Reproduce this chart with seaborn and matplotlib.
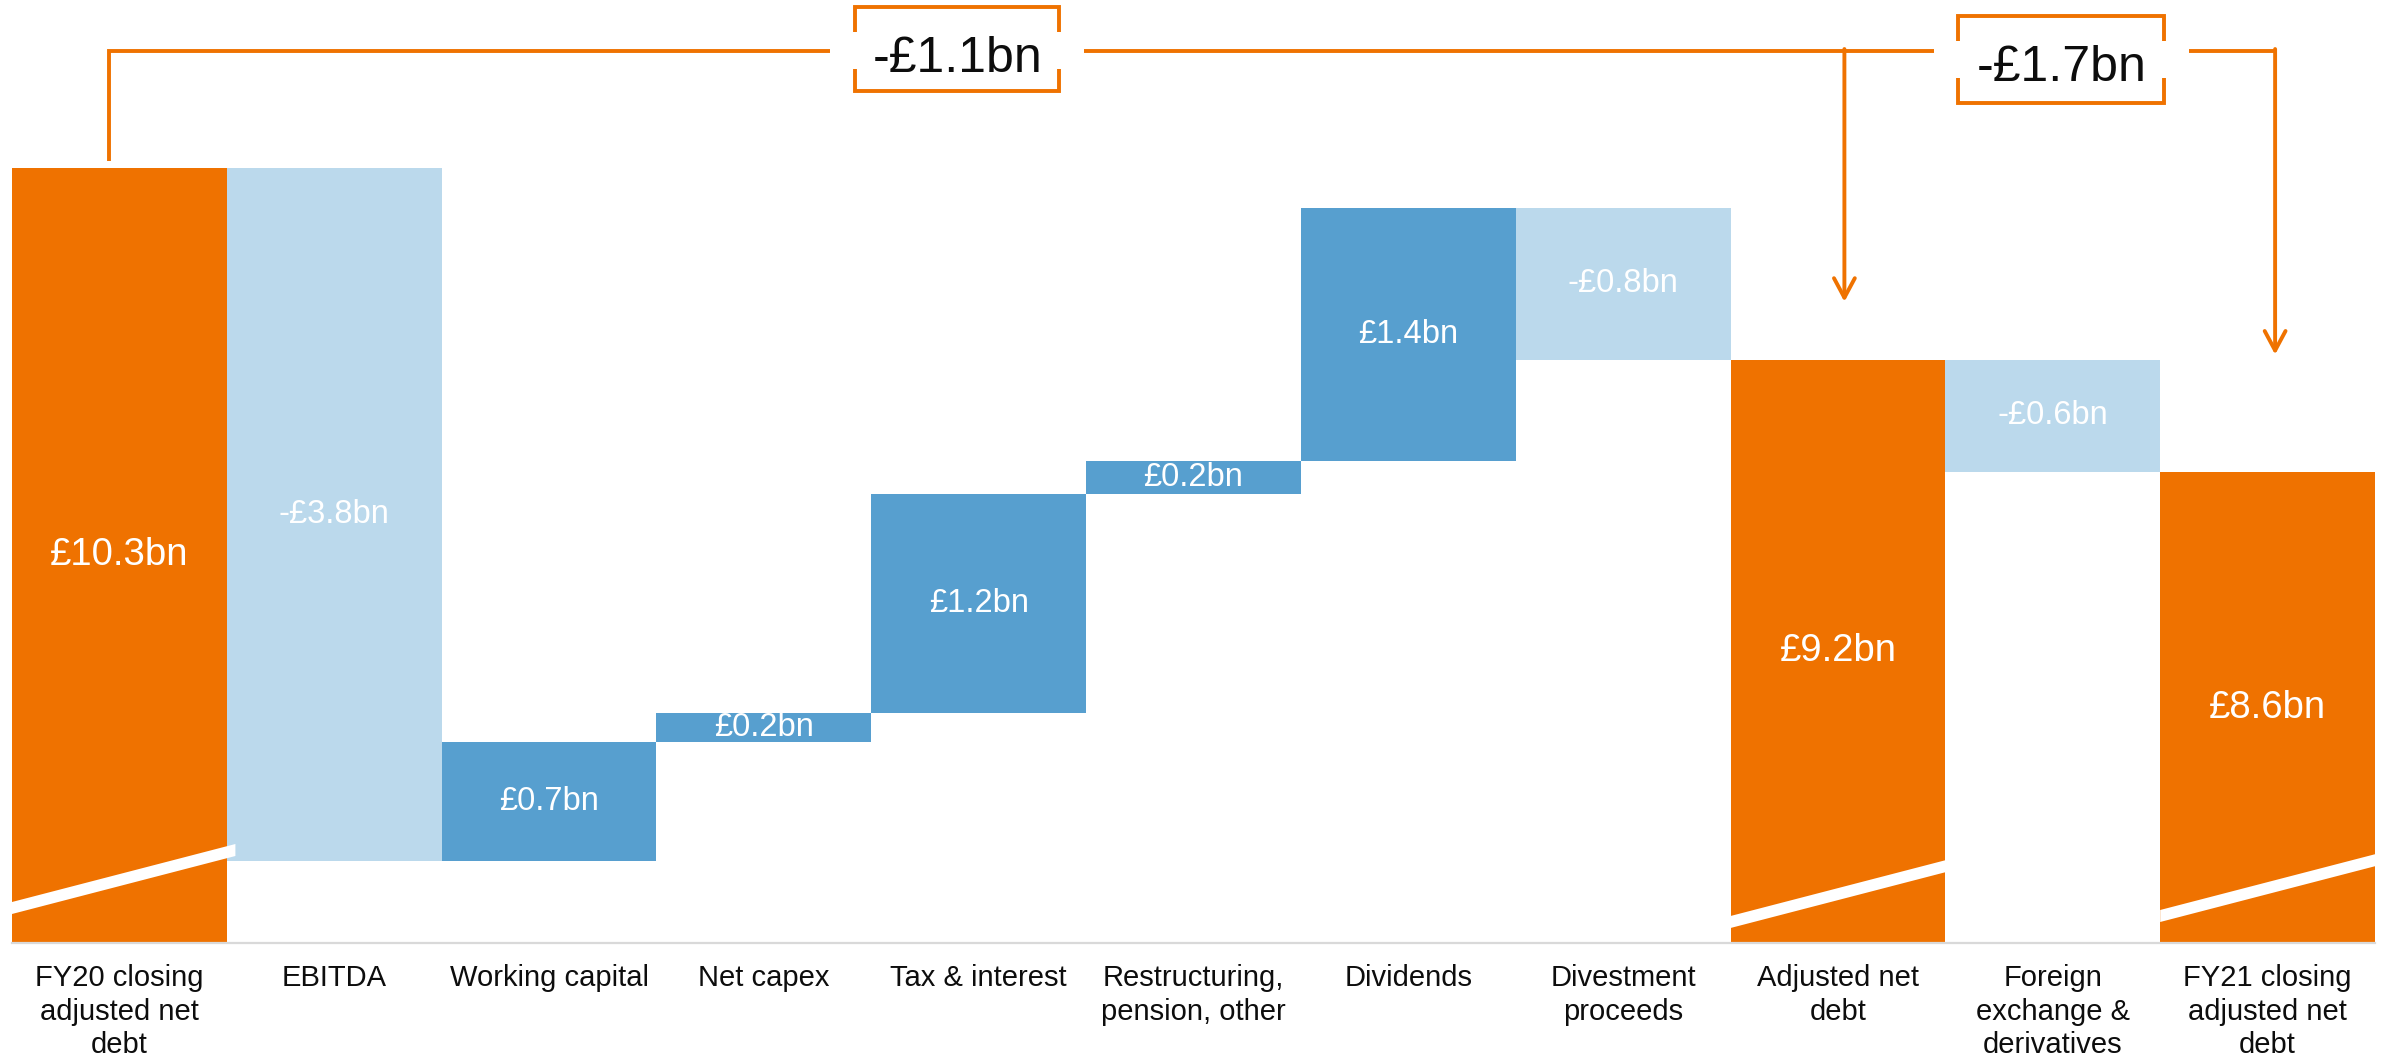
import numpy as np
import pandas as pd
import matplotlib
matplotlib.use("Agg")
import matplotlib.pyplot as plt
import matplotlib.transforms as mtransforms
from matplotlib.patches import Polygon
import seaborn as sns

# ---- data -------------------------------------------------------------
categories = [
    "FY20 closing\nadjusted net\ndebt",
    "EBITDA",
    "Working capital",
    "Net capex",
    "Tax & interest",
    "Restructuring,\npension, other",
    "Dividends",
    "Divestment\nproceeds",
    "Adjusted net\ndebt",
    "Foreign\nexchange &\nderivatives",
    "FY21 closing\nadjusted net\ndebt",
]
# "total" = net debt level, "delta" = movement in net debt (£bn)
kinds = ["total", "delta", "delta", "delta", "delta", "delta",
         "delta", "delta", "total", "delta", "total"]
values = [10.30, -3.83, 0.66, 0.16, 1.21, 0.18, 1.40, -0.84, 9.24, -0.62, 8.62]

# ---- style ------------------------------------------------------------
ORANGE = "#EF7200"
DARK_BLUE = "#579FCF"
LIGHT_BLUE = "#BBD9EC"
AXIS_GREY = "#D9D9D9"
TEXT = "#0D0D0D"

sns.set_style("white")
plt.rcParams["font.family"] = ["Liberation Sans", "DejaVu Sans"]

W_PX, H_PX, DPI = 2389, 1060, 100
fig = plt.figure(figsize=(W_PX / DPI, H_PX / DPI), dpi=DPI)
ax = fig.add_axes([12 / W_PX, 117 / H_PX, (2375 - 12) / W_PX, 943 / H_PX])

Y_LO, Y_HI = 6.018, 11.228


def yfrac(v):
    return (v - Y_LO) / (Y_HI - Y_LO)


# ---- floating bars ------------------------------------------------------
heights, bottoms, colors = [], [], []
level = None
for kind, v in zip(kinds, values):
    if kind == "total":
        bottoms.append(0.0)
        heights.append(v)
        colors.append(ORANGE)
        level = v
    else:
        new_level = level + v
        bottoms.append(min(level, new_level))
        heights.append(abs(v))
        colors.append(DARK_BLUE if v > 0 else LIGHT_BLUE)
        level = new_level

df = pd.DataFrame({"category": categories, "height": heights})
sns.barplot(data=df, x="category", y="height", order=categories, width=1.0,
            color=ORANGE, saturation=1, errorbar=None, linewidth=0,
            bottom=bottoms, ax=ax)
for patch, c in zip(ax.patches, colors):
    patch.set_facecolor(c)
    patch.set_edgecolor("none")

n = len(categories)
ax.set_xlim(-0.5, n - 0.5)
ax.set_ylim(Y_LO, Y_HI)
ax.set_xlabel("")
ax.set_ylabel("")
ax.set_yticks([])
for side in ("left", "right", "top"):
    ax.spines[side].set_visible(False)
ax.spines["bottom"].set_color(AXIS_GREY)
ax.spines["bottom"].set_linewidth(1.6)
ax.spines["bottom"].set_zorder(5)

ax.set_xticks(range(n))
ax.set_xticklabels(categories, fontsize=21, color=TEXT, linespacing=1.26)
ax.tick_params(axis="x", which="major", length=0, pad=15)
ax.set_xticks(np.arange(-0.5, n), minor=True)
ax.tick_params(axis="x", which="minor", length=6.5, width=1.5, color=AXIS_GREY)

blend = mtransforms.blended_transform_factory(ax.transData, ax.transAxes)

# axis-break stripes across the total bars
ax_h = 943.0
stripe_offsets = {0: 35, 8: 21, 10: 27}
for i, off in stripe_offsets.items():
    x0, x1 = i - 0.5, i + 0.54
    y0c, y1c = off / ax_h, (off + 58) / ax_h
    t = 6 / ax_h
    poly = Polygon([(x0, y0c - t), (x1, y1c - t), (x1, y1c + t), (x0, y0c + t)],
                   closed=True, facecolor="white", edgecolor="none",
                   transform=blend, zorder=3)
    ax.add_patch(poly)

# value labels
for i, (kind, v, b, h) in enumerate(zip(kinds, values, bottoms, heights)):
    if kind == "total":
        lo, hi = Y_LO, v
        label = f"£{v:.1f}bn"
        size = 27.5
    else:
        lo, hi = b, b + h
        label = ("-" if v < 0 else "") + f"£{abs(v):.1f}bn"
        size = 23.5
    ax.text(i, (lo + hi) / 2, label, ha="center", va="center",
            color="white", fontsize=size, zorder=6)

# ---- change brackets ----------------------------------------------------
LW = 2.8
line_kw = dict(color=ORANGE, lw=LW, transform=blend, clip_on=False,
               solid_capstyle="butt", solid_joinstyle="miter", zorder=4)
LINE_Y = 0.946
start_x, adj_x, end_x = -0.05, 8.03, 10.035
gap = 0.115

first_total = values[0]
adj_total = values[kinds.index("total", 1)]
last_total = values[-1]

boxes = [
    dict(cx=3.90, w=0.95, top=0.9926, bot=0.9035, tt=0.0265, tb=0.0233,
         text_y=0.9375, change=adj_total - first_total),
    dict(cx=9.04, w=0.96, top=0.983, bot=0.891, tt=0.0265, tb=0.0265,
         text_y=0.928, change=last_total - first_total),
]
b1, b2 = boxes
# horizontal run with gaps for the two labels
ax.plot([start_x, start_x, b1["cx"] - b1["w"] / 2 - gap],
        [yfrac(first_total) + 7 / ax_h, LINE_Y, LINE_Y], **line_kw)
ax.plot([b1["cx"] + b1["w"] / 2 + gap, b2["cx"] - b2["w"] / 2 - gap],
        [LINE_Y, LINE_Y], **line_kw)
ax.plot([b2["cx"] + b2["w"] / 2 + gap, end_x + 0.008], [LINE_Y, LINE_Y], **line_kw)

for x, tip in ((adj_x, 0.680), (end_x, 0.624)):
    ax.annotate("", xy=(x, tip), xytext=(x, LINE_Y + 0.002),
                xycoords=blend, textcoords=blend, annotation_clip=False,
                arrowprops=dict(arrowstyle="->, head_length=1.4, head_width=0.75",
                                color=ORANGE, lw=LW, shrinkA=0, shrinkB=0),
                zorder=4)

for b in boxes:
    l, r = b["cx"] - b["w"] / 2, b["cx"] + b["w"] / 2
    ax.plot([l, l, r, r], [b["top"] - b["tt"], b["top"], b["top"], b["top"] - b["tt"]],
            **line_kw)
    ax.plot([l, l, r, r], [b["bot"] + b["tb"], b["bot"], b["bot"], b["bot"] + b["tb"]],
            **line_kw)
    ch = b["change"]
    label = ("-" if ch < 0 else "") + f"£{abs(ch):.1f}bn"
    ax.text(b["cx"], b["text_y"], label, transform=blend, ha="center", va="center",
            fontsize=36, color=TEXT, clip_on=False)

fig.savefig("out.png", dpi=DPI)
